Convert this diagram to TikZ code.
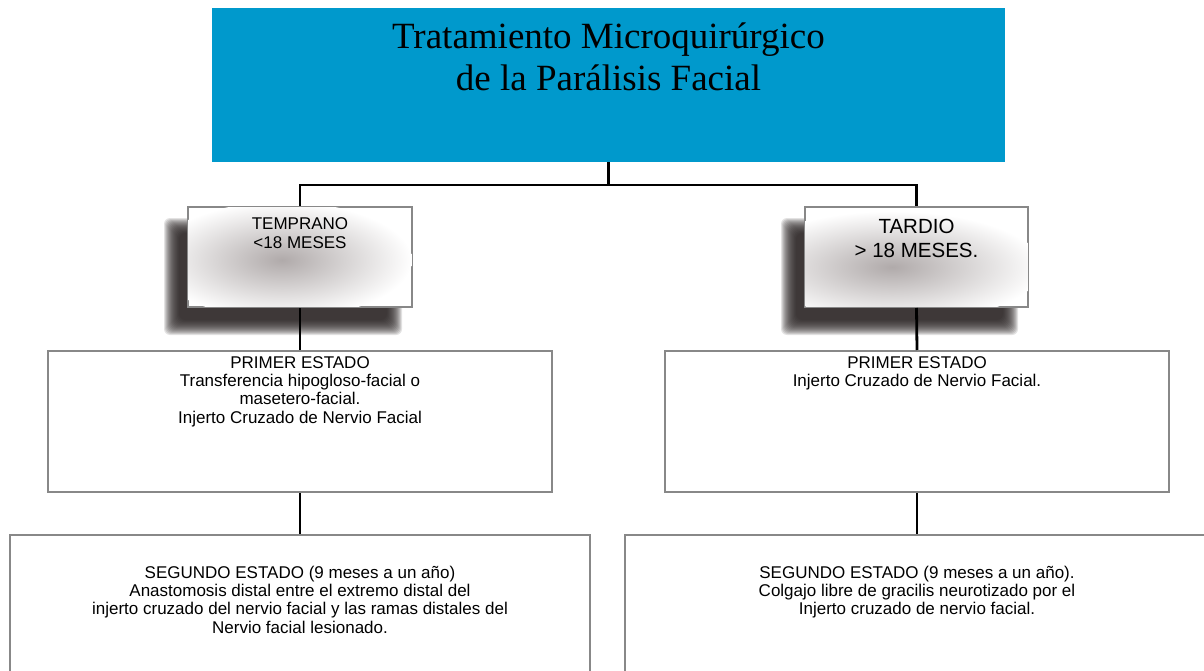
\documentclass[tikz,border=0pt]{standalone}
\usepackage{fontspec}
\setmainfont{Liberation Sans}
\newfontfamily\titlefont{Liberation Serif}
\usetikzlibrary{calc}
\definecolor{titleblue}{RGB}{0,153,204}
\definecolor{boxgray}{RGB}{136,136,136}
\definecolor{shadowc}{RGB}{38,32,32}
\definecolor{glowc}{RGB}{176,170,170}
\pgfdeclarelayer{background}
\pgfsetlayers{background,main}
\begin{document}
\begin{tikzpicture}[x=1pt,y=-1pt,
  box/.style={draw=boxgray, line width=2pt, fill=white, inner sep=0pt},
  conn/.style={draw=black, line width=2.8pt},
  txt/.style={align=center, inner sep=0pt, anchor=north, font=\fontsize{17}{18.4}\selectfont},
  bigtxt/.style={align=center, inner sep=0pt, anchor=north, font=\fontsize{20.5}{24.5}\selectfont},
  titletxt/.style={align=center, inner sep=0pt, anchor=north, font=\titlefont\fontsize{37}{42}\selectfont}
  ]
\useasboundingbox (0,0) rectangle (1204,671);

% boxes
\node[fill=titleblue, minimum width=793pt, minimum height=154pt, inner sep=0pt] (title) at (608.5,85) {};
\node[box, minimum width=224pt, minimum height=100pt] (temp) at (300,257) {};
\node[box, minimum width=223pt, minimum height=100pt] (tard) at (916.5,257) {};
\node[box, minimum width=504pt, minimum height=141pt] (p1L) at (300,421.5) {};
\node[box, minimum width=504pt, minimum height=141pt] (p1R) at (917,421.5) {};
\node[box, minimum width=580pt, minimum height=150pt] (s2L) at (300,610) {};
\node[box, minimum width=584pt, minimum height=150pt] (s2R) at (917,610) {};

% shadows
\begin{pgfonlayer}{background}
\foreach \b in {temp,tard}{
  \foreach \i in {0,...,15}{
    \fill[shadowc, opacity=0.13, rounded corners=6pt]
      ($(\b.north west)+(-23+\i*1.0,12+\i*1.0)$) rectangle ($(\b.south east)+(-11-\i*1.0,27-\i*1.0)$);
  }
}
\end{pgfonlayer}

% inner glows
\begin{scope}
\clip ($(temp.south west)+(1.5,-1.5)$) rectangle ($(temp.north east)+(-1.5,1.5)$);
\shade[inner color=glowc, outer color=white] (282,260) ellipse [x radius=130, y radius=58];
\end{scope}
\begin{scope}
\clip ($(tard.south west)+(1.5,-1.5)$) rectangle ($(tard.north east)+(-1.5,1.5)$);
\shade[inner color=glowc, outer color=white] (892,267) ellipse [x radius=150, y radius=56];
\end{scope}

% connectors
\coordinate (j) at (608.5,185);
\draw[conn] (title.south) -- (j);
\draw[conn] (temp.north) |- (j) -| (tard.north);
\draw[conn] (temp.south) -- (p1L.north);
\draw[conn] (tard.south) -- (p1R.north);
\draw[conn] (p1L.south) -- (s2L.north);
\draw[conn] (p1R.south) -- (s2R.north);

% texts
\node[titletxt] (ttitle) at (608.5,22.5) {Tratamiento Microquirúrgico\\de la Parálisis Facial};
\node[txt] (ttemp) at (300,217.8) {TEMPRANO\\<18 MESES};
\node[bigtxt] (ttard) at (916.5,218.6) {TARDIO\\> 18 MESES.};
\node[txt] (tp1L) at (300,356) {PRIMER ESTADO\\Transferencia hipogloso-facial o\\masetero-facial.\\Injerto Cruzado de Nervio Facial};
\node[txt] (tp1R) at (917,356) {PRIMER ESTADO\\Injerto Cruzado de Nervio Facial.};
\node[txt] (ts2L) at (300,565.5) {SEGUNDO ESTADO (9 meses a un año)\\Anastomosis distal entre el extremo distal del\\injerto cruzado del nervio facial y las ramas distales del\\Nervio facial lesionado.};
\node[txt] (ts2R) at (917,565.5) {SEGUNDO ESTADO (9 meses a un año).\\Colgajo libre de gracilis neurotizado por el\\Injerto cruzado de nervio facial.};
\end{tikzpicture}
\end{document}
